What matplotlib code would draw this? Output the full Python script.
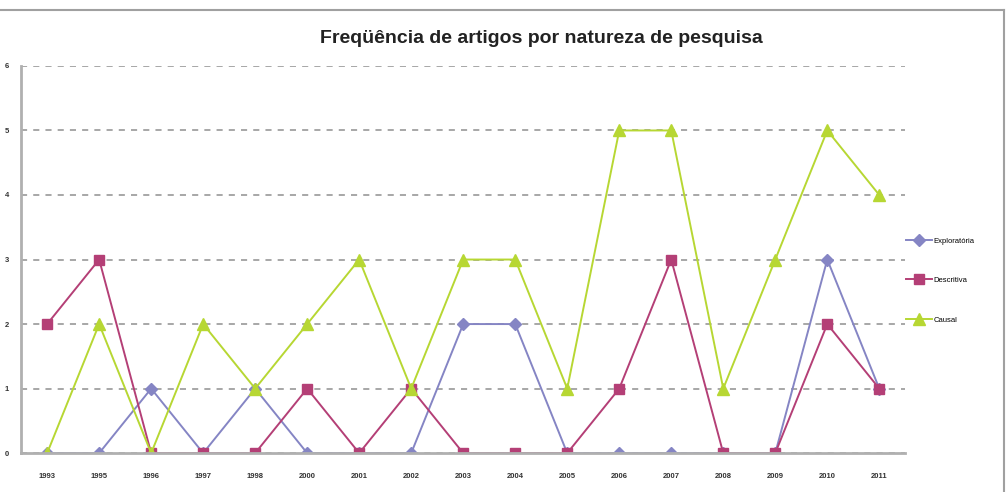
import numpy as np
import matplotlib.pyplot as plt
from matplotlib.lines import Line2D

anos = ['1993', '1995', '1996', '1997', '1998', '2000', '2001', '2002', '2003',
        '2004', '2005', '2006', '2007', '2008', '2009', '2010', '2011']
exploratoria = [0, 0, 1, 0, 1, 0, 0, 0, 2, 2, 0, 0, 0, 0, 0, 3, 1]
descritiva = [2, 3, 0, 0, 0, 1, 0, 1, 0, 0, 0, 1, 3, 0, 0, 2, 1]
causal = [0, 2, 0, 2, 1, 2, 3, 1, 3, 3, 1, 5, 5, 1, 3, 5, 4]

plt.rcParams['font.family'] = ['Liberation Sans', 'DejaVu Sans']

fig = plt.figure(figsize=(10.07, 4.92), dpi=100)
ax = fig.add_axes([0.021, 0.079, 0.878, 0.787])

x = np.arange(len(anos))
ax.plot(x, exploratoria, color='#8585c4', marker='D', markersize=6, lw=1.4,
        label='Exploratória')
ax.plot(x, descritiva, color='#b43f76', marker='s', markersize=7.5, lw=1.4,
        label='Descritiva')
ax.plot(x, causal, color='#b7d733', marker='^', markersize=8, lw=1.4,
        label='Causal')

ax.set_xlim(-0.5, len(anos) - 0.5)
ax.set_ylim(0, 6)
ax.set_yticks(range(7))
ax.set_xticks(x)
ax.set_xticklabels(anos, fontsize=5.5, fontweight='bold', color='#333333')
ax.tick_params(axis='y', labelsize=5.5, colors='#333333', length=0, pad=9)
ax.tick_params(axis='x', length=0, pad=14)
for t in ax.get_yticklabels():
    t.set_fontweight('bold')

ax.yaxis.grid(True, linestyle=(0, (4, 4)), color='#909090', lw=1.1)
ax.set_axisbelow(True)
for s in ['top', 'right']:
    ax.spines[s].set_visible(False)
for s in ['left', 'bottom']:
    ax.spines[s].set_color('#b0b0b0')
    ax.spines[s].set_linewidth(2)

fig.text(0.538, 0.922, 'Freqüência de artigos por natureza de pesquisa',
         ha='center', va='center', fontsize=14, fontweight='bold',
         color='#222222')

leg = fig.legend(loc='center left', bbox_to_anchor=(0.893, 0.43),
                 fontsize=5.5, frameon=False, handlelength=3.4,
                 labelspacing=4.2, handletextpad=0.2)

# moldura do recorte
fig.add_artist(Line2D([0, 0.997], [0.98, 0.98], color='#a0a0a0', lw=1.5,
                      transform=fig.transFigure))
fig.add_artist(Line2D([0.997, 0.997], [0.0, 0.98], color='#a0a0a0', lw=1.5,
                      transform=fig.transFigure))

fig.savefig('out.png', dpi=100)
